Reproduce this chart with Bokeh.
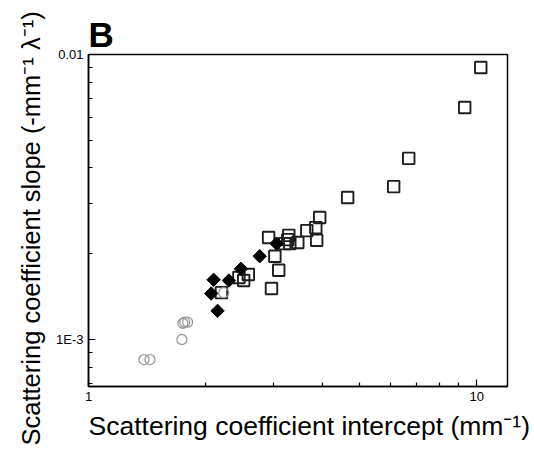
from bokeh.plotting import figure
from bokeh.models import FixedTicker, Title
from bokeh.embed import file_html
from bokeh.resources import INLINE

# Data (log-log)
sq_x = [10.24, 9.31, 6.68, 6.11, 4.65, 3.94, 3.85, 3.65, 3.87, 3.46, 3.28, 3.26,
        3.30, 3.20, 2.91, 3.02, 3.09, 2.96, 2.58, 2.51, 2.44, 2.20]
sq_y = [0.00900, 0.00652, 0.00432, 0.00344, 0.00315, 0.00268, 0.00247, 0.00241,
        0.00223, 0.00219, 0.00232, 0.00224, 0.00217, 0.00217, 0.00228, 0.00196,
        0.00175, 0.00151, 0.00169, 0.00161, 0.00165, 0.00146]

dm_x = [3.05, 2.76, 2.47, 2.30, 2.10, 2.07, 2.15]
dm_y = [0.00217, 0.00196, 0.00177, 0.00161, 0.00162, 0.00145, 0.00126]

ci_x = [2.23, 1.75, 1.80, 1.77, 1.74, 1.39, 1.44]
ci_y = [0.00146, 0.00114, 0.00115, 0.00115, 0.00100, 0.00085, 0.00085]

x_major = [1, 10]
x_major_labels = ["1", "10"]
y_major = [0.001, 0.01]
y_major_labels = ["1E-3", "0.01"]

x_title = "Scattering coefficient intercept (mm\u207b\u00b9)"
y_title = "Scattering coefficient slope (-mm\u207b\u00b9 \u03bb\u207b\u00b9)"

FONT = "Liberation Sans"

p = figure(width=534, height=454, x_axis_type="log", y_axis_type="log",
           x_range=(1, 12.0), y_range=(6.84e-4, 0.01),
           output_backend="svg", toolbar_location=None,
           min_border_left=88, min_border_right=27,
           min_border_top=54, min_border_bottom=68)

p.title.text = "B"
p.title.text_font = FONT
p.title.text_font_size = "35px"
p.title.text_font_style = "bold"
p.title.text_color = "black"
p.title.align = "left"
p.title.standoff = 2

p.grid.visible = False
p.outline_line_color = "black"
p.outline_line_width = 1.5
p.background_fill_color = "white"
p.border_fill_color = "white"

x_minor = [m * d for d in (1, 10) for m in range(2, 10) if m * d <= 12]
y_minor = [m * d for d in (1e-4, 1e-3) for m in range(2, 10) if m * d >= 6.84e-4]

p.xaxis.ticker = FixedTicker(ticks=x_major, minor_ticks=x_minor)
p.yaxis.ticker = FixedTicker(ticks=y_major, minor_ticks=y_minor)
p.xaxis.major_label_overrides = {k: v for k, v in zip(x_major, x_major_labels)}
p.yaxis.major_label_overrides = {k: v for k, v in zip(y_major, y_major_labels)}

for ax in (p.xaxis[0], p.yaxis[0]):
    ax.axis_line_width = 1.5
    ax.axis_line_color = "black"
    ax.major_tick_in = 7
    ax.major_tick_out = 0
    ax.minor_tick_in = 4
    ax.minor_tick_out = 0
    ax.major_tick_line_color = "black"
    ax.minor_tick_line_color = "black"
    ax.major_tick_line_width = 1.2
    ax.minor_tick_line_width = 1.2
    ax.major_label_text_font = FONT
    ax.major_label_text_font_size = "13px"
    ax.major_label_text_color = "black"
    ax.major_label_standoff = 5

p.add_layout(Title(text=x_title, align="left", text_font=FONT,
                   text_font_size="26.5px", text_font_style="normal",
                   text_color="black", standoff=10), "below")
p.add_layout(Title(text=y_title, align="left", offset=-59, text_font=FONT,
                   text_font_size="25.5px", text_font_style="normal",
                   text_color="black", standoff=17), "left")

p.scatter(sq_x, sq_y, marker="square", size=11.5, fill_alpha=0,
          line_color="#1e1e1e", line_width=1.9)
p.scatter(ci_x, ci_y, marker="circle", size=10, fill_alpha=0,
          line_color="#9a9a9a", line_width=1.3)
p.scatter(dm_x, dm_y, marker="square", size=9.5, angle=0.7854,
          fill_color="black", line_color="black", line_width=1)

open("out.html", "w").write(file_html(p, INLINE))
